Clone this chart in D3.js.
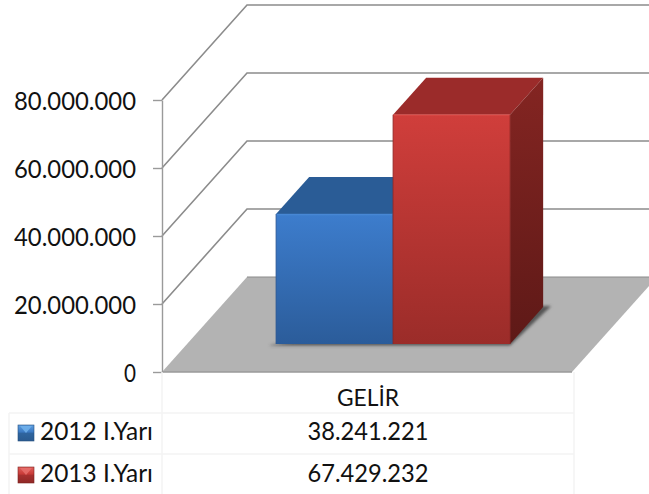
<!DOCTYPE html>
<html><head><meta charset="utf-8">
<script src="https://cdn.jsdelivr.net/npm/d3@7"></script>
<style>html,body{margin:0;padding:0;background:#fff;overflow:hidden}svg{display:block}text{font-family:Lato,"Open Sans",sans-serif;fill:#111}</style>
</head><body><svg id="c" width="649" height="494"></svg>
<script>
const category = "GELİR";
const seriesNames = ["2012 I.Yarı", "2013 I.Yarı"];
const seriesValues = [38241221, 67429232];
const tickValues = [0, 20000000, 40000000, 60000000, 80000000];
const seriesLabels = ["38.241.221", "67.429.232"];

const svg = d3.select("#c");
const W = 649, H = 494;
const plot = {x0: 162, x1: 572, y0: 372, y1: 100, dx: 85, dy: 95};
const y = d3.scaleLinear().domain([0, 80000000]).range([plot.y0, plot.y1]);
const fmt = d3.formatLocale({decimal: ",", thousands: ".", grouping: [3], currency: ["", ""]}).format(",d");
const zFront = 28 / 95, zBack = 65 / 95;
const x = d3.scaleBand().domain(seriesNames).range([251, 485]).padding(0);
const proj = (px, v, z) => [px + z * plot.dx, y(v) - z * plot.dy];
const poly = pts => pts.map(p => p.join(",")).join(" ");

const defs = svg.append("defs");
function grad(id, stops, x2 = 0, y2 = 1) {
  const g = defs.append("linearGradient").attr("id", id).attr("x1", 0).attr("y1", 0).attr("x2", x2).attr("y2", y2);
  stops.forEach(([o, c]) => g.append("stop").attr("offset", o).attr("stop-color", c));
}
grad("f0", [[0, "#3d7dcd"], [1, "#2b5c9a"]]);
grad("f1", [[0, "#d03e3b"], [1, "#9b2c29"]]);
grad("s1", [[0, "#842522"], [1, "#5e1917"]]);
grad("l0", [[0, "#5f9fe0"], [.45, "#3a78c2"], [.5, "#2f659f"], [1, "#2a5a90"]]);
grad("l1", [[0, "#e0605c"], [.45, "#c83a37"], [.5, "#a83130"], [1, "#8f2826"]]);
defs.append("filter").attr("id", "blur").attr("x", "-20%").attr("y", "-20%").attr("width", "140%").attr("height", "140%")
  .append("feGaussianBlur").attr("stdDeviation", 1.6);
const clip = svg.append("g");

// floor
clip.append("polygon")
  .attr("points", poly([[plot.x0, plot.y0], [plot.x1, plot.y0], [plot.x1 + plot.dx, plot.y0 - plot.dy], [plot.x0 + plot.dx, plot.y0 - plot.dy]]))
  .attr("fill", "#b3b3b3");
clip.append("line").attr("x1", plot.x0).attr("x2", plot.x1).attr("y1", plot.y0).attr("y2", plot.y0)
  .attr("stroke", "#9a9a9a").attr("stroke-width", 1.5);

// grid lines on the side and back walls
tickValues.slice(1).forEach(v => {
  clip.append("polyline").attr("fill", "none").attr("stroke", "#8c8c8c").attr("stroke-width", 1.6)
    .attr("points", poly([[plot.x0, y(v)], [plot.x0 + plot.dx, y(v) - plot.dy], [W + 10, y(v) - plot.dy]]));
});
clip.append("line").attr("x1", plot.x0 + plot.dx).attr("x2", W).attr("y1", plot.y0 - plot.dy).attr("y2", plot.y0 - plot.dy)
  .attr("stroke", "#8c8c8c").attr("stroke-width", 1.2);

// y axis
const axis = d3.axisLeft(y).tickValues(tickValues).tickFormat(fmt).tickSize(9).tickSizeOuter(0).tickPadding(17);
const ax = svg.append("g").attr("transform", `translate(${plot.x0},0)`).call(axis);
ax.select(".domain").attr("stroke", "#9a9a9a").attr("stroke-width", 1.4);
ax.selectAll(".tick line").attr("stroke", "#9a9a9a").attr("stroke-width", 1.4);
ax.selectAll("text").attr("font-size", 25).attr("fill", "#111").attr("font-family", "Lato").attr("dy", "0.38em")
  .each(function (d) { if (d > 0) d3.select(this).attr("textLength", 122).attr("lengthAdjust", "spacingAndGlyphs"); });
ax.selectAll(".tick").filter(d => d === 0).select("text").attr("textLength", 12).attr("lengthAdjust", "spacingAndGlyphs");

// bars
const n = seriesNames.length;
const sx0 = x(seriesNames[0]), sx1 = x(seriesNames[n - 1]) + x.bandwidth();
const b0 = proj(sx0, 0, zFront), b1 = proj(sx1, 0, zFront), b2 = proj(sx1, 0, zBack);
svg.append("polygon").attr("filter", "url(#blur)").attr("fill", "#555")
  .attr("points", poly([[b0[0] - 6, b0[1] + 1], [b0[0] - 6, b0[1] + 1.5], [b1[0], b1[1] + 1.5], [b2[0] + 8, b2[1] - 1], [b2[0], b2[1] - 1]]));

seriesNames.forEach((s, i) => {
  const v = seriesValues[i], l = x(s), r = l + x.bandwidth();
  const g = svg.append("g");
  const A = proj(l, v, zFront), B = proj(r, v, zFront), C = proj(r, v, zBack), D = proj(l, v, zBack);
  const E = proj(r, 0, zFront), F = proj(r, 0, zBack), G = proj(l, 0, zFront);
  g.append("polygon").attr("points", poly([A, B, C, D])).attr("fill", i ? "#9b2b2a" : "#2a5c96");
  g.append("polygon").attr("points", poly([B, C, F, E])).attr("fill", i ? "url(#s1)" : "#1f4470");
  g.append("polygon").attr("points", poly([A, B, E, G])).attr("fill", `url(#f${i})`);
  g.append("line").attr("x1", A[0]).attr("x2", B[0]).attr("y1", A[1] + .5).attr("y2", B[1] + .5)
    .attr("stroke", i ? "#dc4a46" : "#4a8ad6").attr("stroke-width", 1.5).attr("opacity", .8);
  g.append("line").attr("x1", G[0]).attr("x2", A[0]).attr("y1", G[1]).attr("y2", A[1])
    .attr("stroke", i ? "#8c2725" : "#2a5590").attr("stroke-width", 1).attr("opacity", .8);
  g.append("line").attr("x1", B[0]).attr("x2", E[0]).attr("y1", B[1]).attr("y2", E[1])
    .attr("stroke", i ? "#8c2725" : "#2a5590").attr("stroke-width", 1).attr("opacity", .8);
});

// data table
const tbl = {left: 9, x0: 162, x1: 574, rows: [372, 413, 454, 494]};
const rule = "#f3f3f3";
[tbl.x0, tbl.x1].forEach(px => svg.append("line").attr("x1", px).attr("x2", px).attr("y1", tbl.rows[0]).attr("y2", H).attr("stroke", rule).attr("stroke-width", 1.5));
svg.append("line").attr("x1", tbl.left).attr("x2", tbl.left).attr("y1", tbl.rows[1]).attr("y2", H).attr("stroke", rule).attr("stroke-width", 1.5);
[tbl.rows[1], tbl.rows[2]].forEach(py => svg.append("line").attr("x1", tbl.left).attr("x2", tbl.x1).attr("y1", py).attr("y2", py).attr("stroke", rule).attr("stroke-width", 1.5));
const cx = 368;
svg.append("text").attr("x", cx).attr("y", 405.5).attr("text-anchor", "middle").attr("font-size", 23)
  .attr("textLength", 62).attr("lengthAdjust", "spacingAndGlyphs").text(category);
seriesNames.forEach((s, i) => {
  const base = 440 + i * 42;
  svg.append("rect").attr("x", 18).attr("y", base - 15).attr("width", 16).attr("height", 16)
    .attr("fill", `url(#l${i})`).attr("stroke", i ? "#7c2220" : "#26507f").attr("stroke-width", .6);
  svg.append("polygon").attr("points", poly([[20, base - 14], [32, base - 14], [26, base - 7]]))
    .attr("fill", i ? "#e8726e" : "#73b4ee").attr("opacity", .8);
  svg.append("text").attr("x", 40).attr("y", base).attr("font-size", 25)
    .attr("textLength", 113).attr("lengthAdjust", "spacingAndGlyphs").text(s);
  svg.append("text").attr("x", cx).attr("y", base).attr("text-anchor", "middle").attr("font-size", 25)
    .attr("textLength", 121).attr("lengthAdjust", "spacingAndGlyphs").text(seriesLabels[i]);
});
</script></body></html>
